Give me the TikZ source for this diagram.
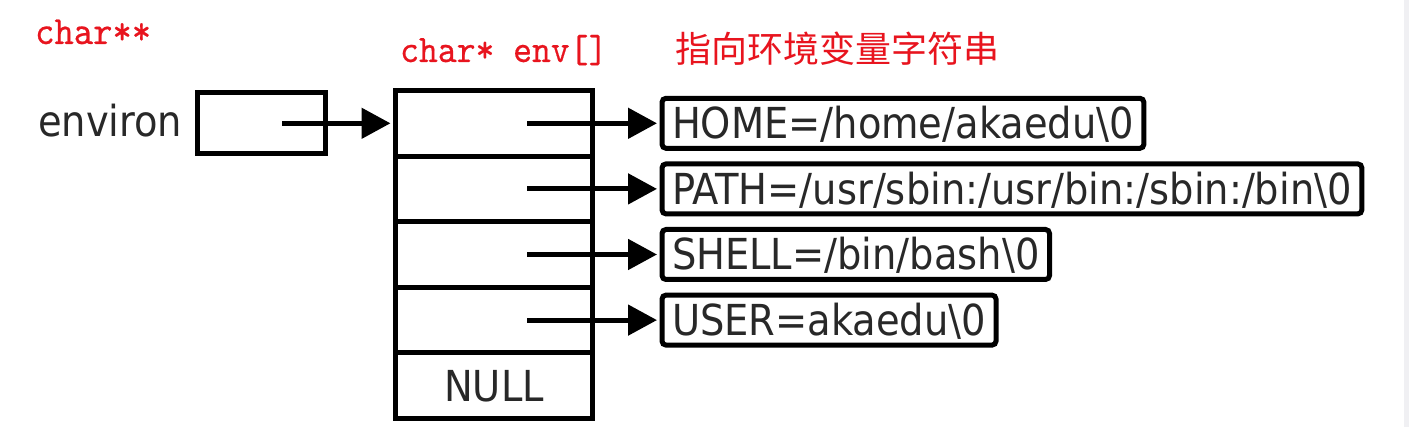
\documentclass[tikz,border=0pt]{standalone}
\usepackage{fontspec}
\setmainfont{DejaVu Sans Condensed}
\newfontfamily\cjk{Noto Sans CJK SC}
\newfontfamily\redmono[Extension=.otf,FakeStretch=0.92,FakeBold=0.5]{lmmono10-regular}
\usetikzlibrary{arrows.meta}
\definecolor{lblred}{RGB}{232,20,30}
\definecolor{edgegray}{RGB}{240,240,243}
\definecolor{inkgray}{RGB}{40,40,40}
\begin{document}
\begin{tikzpicture}[x=1pt,y=-1pt,
  box/.style={draw=black, line width=5pt},
  cell/.style={box, minimum width=197pt, minimum height=65.6pt, inner sep=0pt,
    text height=31pt, text depth=0pt, font=\fontsize{42.7}{50}\selectfont, text=inkgray},
  strbox/.style={box, rounded corners=4pt, anchor=west, inner xsep=10pt, inner ysep=9.5pt,
    text height=31pt, text depth=0pt, font=\fontsize{42.7}{50}\selectfont, text=inkgray},
  ptr/.style={line width=5pt, shorten >=2.5pt, -{Triangle[length=29pt,width=30pt]}},
  redlbl/.style={text=lblred, inner sep=0pt}]
\path[use as bounding box, fill=white] (0,0) rectangle (1409,427);
\fill[edgegray] (1404,0) rectangle (1409,427);

% red annotations
\node[redlbl, anchor=base west, font=\redmono\fontsize{40}{44}\selectfont] (t1) at (35,44) {char**};
\node[redlbl, anchor=base west, font=\redmono\fontsize{39}{44}\selectfont] (t2) at (400,62) {char* env[]};
\node[redlbl, anchor=west, font=\cjk\fontsize{36}{40}\selectfont] (t3) at (675,49) {指向环境变量字符串};

% environ
\node[anchor=base west, inner sep=0pt, font=\fontsize{42.7}{50}\selectfont, text=inkgray] (envlbl) at (38,137) {environ};
\node[box, minimum width=128pt, minimum height=61pt, inner sep=0pt] (envbox) at (261.5,123) {};

% array env[]
\node[cell] (cell1) at (494,123.3) {};
\node[cell] (cell2) at (494,188.9) {};
\node[cell] (cell3) at (494,254.5) {};
\node[cell] (cell4) at (494,320.1) {};
\node[cell] (cell5) at (494,385.7) {NULL};

% strings
\node[strbox] (home)  at (659.5,123.3) {HOME=/home/akaedu\textbackslash 0};
\node[strbox] (path)  at (659.5,188.9) {PATH=/usr/sbin:/usr/bin:/sbin:/bin\textbackslash 0};
\node[strbox] (shell) at (659.5,254.5) {SHELL=/bin/bash\textbackslash 0};
\node[strbox] (user)  at (659.5,320.1) {USER=akaedu\textbackslash 0};

% pointers
\coordinate (envptr) at (282,123.3);
\draw[ptr] (envptr) -- (cell1.west);
\coordinate (p1) at ([xshift=33pt]cell1.center);
\coordinate (p2) at ([xshift=33pt]cell2.center);
\coordinate (p3) at ([xshift=33pt]cell3.center);
\coordinate (p4) at ([xshift=33pt]cell4.center);
\draw[ptr] (p1) -- (home.west);
\draw[ptr] (p2) -- (path.west);
\draw[ptr] (p3) -- (shell.west);
\draw[ptr] (p4) -- (user.west);
\end{tikzpicture}
\end{document}
